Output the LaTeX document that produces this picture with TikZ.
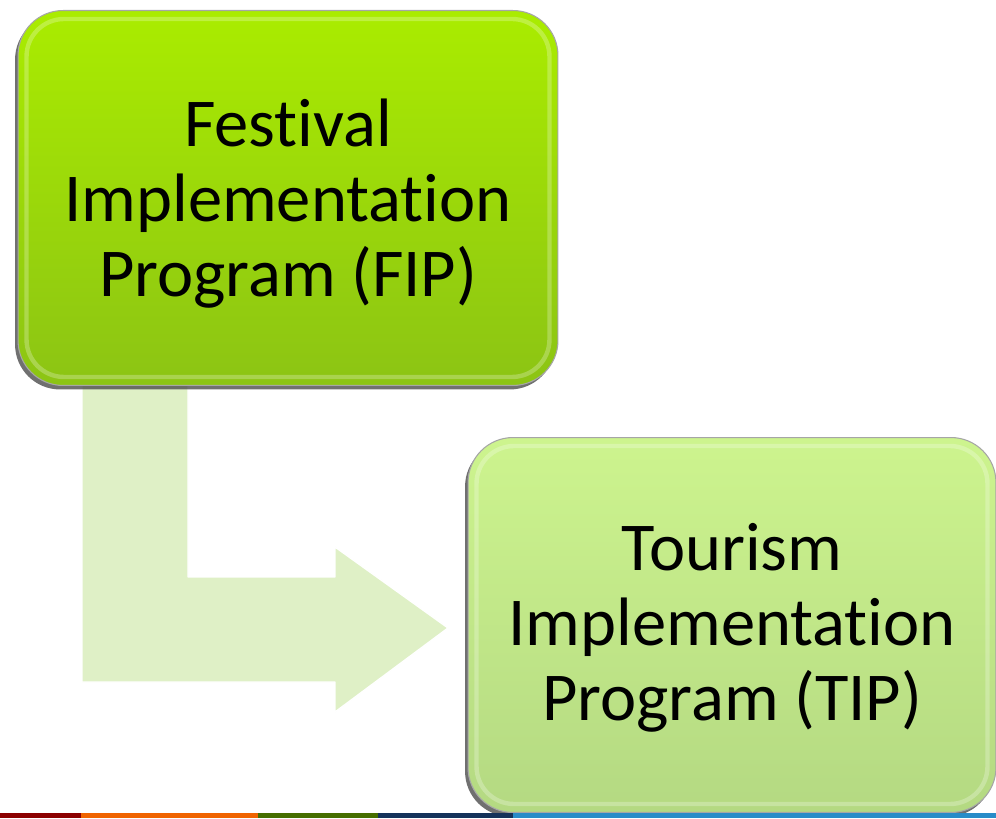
\documentclass[tikz,border=0pt]{standalone}
\usepackage{fontspec}
\setmainfont[Ligatures=NoCommon]{Carlito}
\usetikzlibrary{shadows,positioning}
\definecolor{fiptop}{HTML}{AAEC00}
\definecolor{fipbot}{HTML}{8CC414}
\definecolor{tiptop}{HTML}{CDF48E}
\definecolor{tipbot}{HTML}{B4D982}
\definecolor{arrowfill}{HTML}{DFF0C6}
\tikzset{
 progbox/.style={rounded corners=0.9cm, minimum width=10.8cm, minimum height=7.5cm,
   align=center, font=\fontsize{39pt}{42.7pt}\selectfont, text=black,
   draw=black!35, line width=0.6pt,
   drop shadow={shadow xshift=-0.06cm, shadow yshift=-0.08cm, fill=black!70, opacity=0.8}},
 bevel/.style={rounded corners=0.75cm, line width=2.5pt, draw=white, opacity=0.25},
 bar/.style={line width=3pt}
}
\begin{document}
\begin{tikzpicture}[x=0.02cm, y=0.02cm, line join=round]
 \useasboundingbox (0,0) rectangle (996,818);
 % bent arrow behind the boxes
 \fill[arrowfill, draw=white, line width=0.8pt]
   (82,440)--(188,440)--(188,241)--(335,241)--(335,271)--(448,190)
   --(335,106)--(335,136)--(82,136)--cycle;
 \node[progbox, top color=fiptop, bottom color=fipbot] (fip) at (288,620)
   {\parbox{10cm}{\centering\vspace*{0.22cm}Festival\\Implementation\\Program (FIP)}};
 \node[progbox, top color=tiptop, bottom color=tipbot, minimum width=10.56cm] (tip) at (732,193)
   {\parbox{10cm}{\centering\vspace*{0.12cm}Tourism\\Implementation\\Program (TIP)}};
 \draw[bevel] ([shift={(9,9)}]fip.south west) rectangle ([shift={(-9,-9)}]fip.north east);
 \draw[bevel] ([shift={(9,9)}]tip.south west) rectangle ([shift={(-9,-9)}]tip.north east);
 % coloured rule along the bottom
 \draw[bar, color={rgb,255:red,140;green,0;blue,0}] (0,2.5)--(81,2.5);
 \draw[bar, color={rgb,255:red,240;green,100;blue,0}] (81,2.5)--(258,2.5);
 \draw[bar, color={rgb,255:red,70;green,110;blue,0}] (258,2.5)--(378,2.5);
 \draw[bar, color={rgb,255:red,20;green,50;blue,90}] (378,2.5)--(513,2.5);
 \draw[bar, color={rgb,255:red,40;green,140;blue,200}] (513,2.5)--(996,2.5);
\end{tikzpicture}
\end{document}
